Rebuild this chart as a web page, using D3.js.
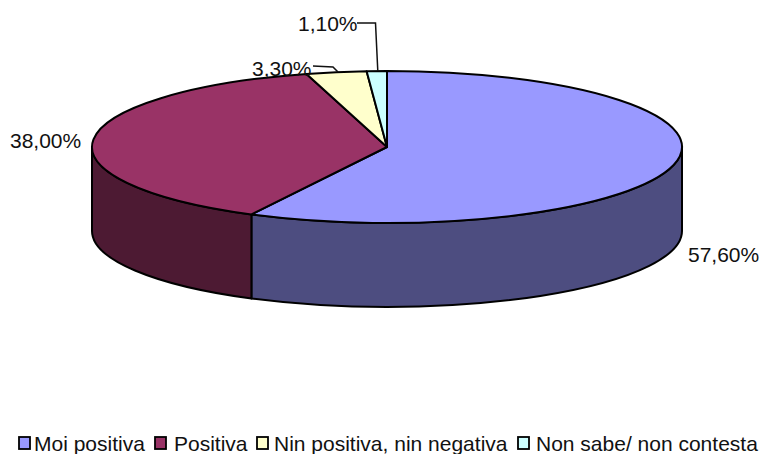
<!DOCTYPE html>
<html><head><meta charset="utf-8">
<style>html,body{margin:0;padding:0;background:#fff}svg{display:block}text{font-family:"Liberation Sans",Arial,sans-serif;fill:#111}</style>
<script src="https://cdnjs.cloudflare.com/ajax/libs/d3/7.8.5/d3.min.js"></script></head><body>
<svg id="c" width="762" height="454"></svg>
<script>
const categories=["Moi positiva","Positiva","Nin positiva, nin negativa","Non sabe/ non contesta"];
const values=[57.6,38.0,3.3,1.1];
const valueLabels=["57,60%","38,00%","3,30%","1,10%"];
const topColors=["#9999ff","#993366","#ffffcc","#ccffff"];
const sideColors=["#4d4d80","#4d1a33","#808066","#668080"];

const svg=d3.select("#c");
const cx=387,cy=147,rx=295,ry=76,depth=84;
const X=d3.scaleLinear().domain([0,1]).range([cx,cx+rx]);
const Y=d3.scaleLinear().domain([0,1]).range([cy,cy+ry]);
const px=a=>X(Math.sin(a)), py=a=>Y(-Math.cos(a));
const arcs=d3.pie().sort(null).value(d=>d)(values);
const stroke="#000", sw=2;

// sides: only the part facing the viewer (90deg to 270deg)
arcs.forEach((d,i)=>{
  const a0=Math.max(d.startAngle,Math.PI/2), a1=Math.min(d.endAngle,3*Math.PI/2);
  if(a1<=a0) return;
  svg.append("path")
    .attr("d",`M${px(a0)},${py(a0)} A${rx},${ry} 0 0 1 ${px(a1)},${py(a1)} L${px(a1)},${py(a1)+depth} A${rx},${ry} 0 0 0 ${px(a0)},${py(a0)+depth} Z`)
    .attr("fill",sideColors[i]).attr("stroke",stroke).attr("stroke-width",sw).attr("stroke-linejoin","round");
});
// top slices
arcs.forEach((d,i)=>{
  const large=d.endAngle-d.startAngle>Math.PI?1:0;
  svg.append("path")
    .attr("d",`M${cx},${cy} L${px(d.startAngle)},${py(d.startAngle)} A${rx},${ry} 0 ${large} 1 ${px(d.endAngle)},${py(d.endAngle)} Z`)
    .attr("fill",topColors[i]).attr("stroke",stroke).attr("stroke-width",sw).attr("stroke-linejoin","round");
});

// leader lines
const mid=(arcs[3].startAngle+arcs[3].endAngle)/2;
svg.append("path").attr("fill","none").attr("stroke","#111").attr("stroke-width",1.5)
  .attr("d",d3.line()([[338,72],[333,67],[313,66]]));
svg.append("path").attr("fill","none").attr("stroke","#111").attr("stroke-width",1.5)
  .attr("d",d3.line()([[px(mid)+1,py(mid)],[375.5,23],[357,23]]));

// labels
const labelPos=[[688,262],[10,148],[252,76],[298,31]];
valueLabels.forEach((t,i)=>{
  svg.append("text").attr("x",labelPos[i][0]).attr("y",labelPos[i][1]).attr("font-size",21).text(t);
});

// legend
const legendX=[19,155,257,518], textX=[34,174,274,536];
categories.forEach((t,i)=>{
  svg.append("rect").attr("x",legendX[i]).attr("y",437).attr("width",11).attr("height",12)
    .attr("fill",topColors[i]).attr("stroke","#000").attr("stroke-width",1.8);
  svg.append("text").attr("x",textX[i]).attr("y",451).attr("font-size",21).text(t);
});
</script></body></html>
